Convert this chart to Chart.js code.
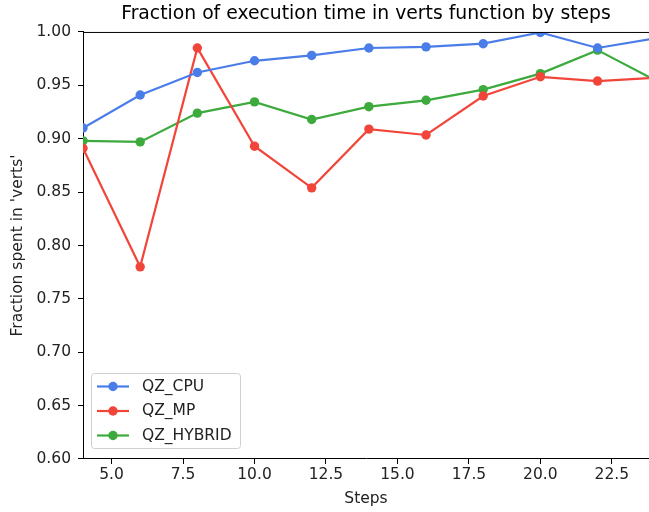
<!DOCTYPE html>
<html>
<head>
<meta charset="utf-8">
<script src="https://cdn.jsdelivr.net/npm/chart.js@4/dist/chart.umd.min.js"></script>
<style>
  html, body { margin: 0; padding: 0; background: #fff; }
  #wrap { width: 649px; height: 512px; position: relative; }
</style>
</head>
<body>
<div id="wrap"><canvas id="c" width="649" height="512"></canvas></div>
<script>
const steps = [4, 6, 8, 10, 12, 14, 16, 18, 20, 22, 24];
const qzCpu = [0.910, 0.941, 0.962, 0.973, 0.978, 0.985, 0.986, 0.989, 0.9995, 0.985, 0.994];
const qzMp = [0.891, 0.780, 0.985, 0.893, 0.854, 0.909, 0.9035, 0.940, 0.958, 0.954, 0.957];
const qzHybrid = [0.898, 0.897, 0.924, 0.9345, 0.918, 0.930, 0.936, 0.946, 0.961, 0.983, 0.955];
const seriesNames = ['QZ_CPU', 'QZ_MP', 'QZ_HYBRID'];
const xTicks = [5.0, 7.5, 10.0, 12.5, 15.0, 17.5, 20.0, 22.5];
const yTicks = [0.60, 0.65, 0.70, 0.75, 0.80, 0.85, 0.90, 0.95, 1.00];

const colors = ['#4a7de8', '#f2453a', '#3caa3c'];
const FONT = 'DejaVu Sans';
const FS = 15.5;

function mk(name, vals, color) {
  return {
    label: name,
    data: steps.map((s, i) => ({ x: s, y: vals[i] })),
    borderColor: color,
    backgroundColor: color,
    borderWidth: 2.2,
    pointRadius: 4.7,
    pointHoverRadius: 4.7,
    pointBorderWidth: 0,
    tension: 0,
    clip: 0
  };
}

const legendPlugin = {
  id: 'customLegend',
  afterDraw(chart) {
    const ctx = chart.ctx;
    const a = chart.chartArea;
    ctx.save();
    // top spine
    ctx.strokeStyle = '#000';
    ctx.lineWidth = 1;
    ctx.beginPath();
    ctx.moveTo(a.left, a.top + 0.5);
    ctx.lineTo(a.right, a.top + 0.5);
    ctx.stroke();
    // legend box
    const bx = 91.5, by = 373.5, bw = 149, bh = 75, r = 3;
    ctx.fillStyle = 'rgba(255,255,255,0.8)';
    ctx.strokeStyle = '#d0d0d0';
    ctx.lineWidth = 1;
    ctx.beginPath();
    ctx.moveTo(bx + r, by);
    ctx.lineTo(bx + bw - r, by);
    ctx.arcTo(bx + bw, by, bx + bw, by + r, r);
    ctx.lineTo(bx + bw, by + bh - r);
    ctx.arcTo(bx + bw, by + bh, bx + bw - r, by + bh, r);
    ctx.lineTo(bx + r, by + bh);
    ctx.arcTo(bx, by + bh, bx, by + bh - r, r);
    ctx.lineTo(bx, by + r);
    ctx.arcTo(bx, by, bx + r, by, r);
    ctx.closePath();
    ctx.fill();
    ctx.stroke();
    chart.data.datasets.forEach((ds, i) => {
      const y = 386.5 + i * 24.5;
      ctx.strokeStyle = ds.borderColor;
      ctx.lineWidth = 2.2;
      ctx.beginPath();
      ctx.moveTo(97, y);
      ctx.lineTo(129, y);
      ctx.stroke();
      ctx.fillStyle = ds.borderColor;
      ctx.beginPath();
      ctx.arc(113, y, 4.7, 0, Math.PI * 2);
      ctx.fill();
      ctx.fillStyle = '#222';
      ctx.font = FS + 'px "' + FONT + '"';
      ctx.textBaseline = 'middle';
      ctx.textAlign = 'left';
      ctx.fillText(ds.label, 142, y);
    });
    ctx.restore();
  }
};

new Chart(document.getElementById('c'), {
  type: 'line',
  data: {
    datasets: [
      mk(seriesNames[0], qzCpu, colors[0]),
      mk(seriesNames[1], qzMp, colors[1]),
      mk(seriesNames[2], qzHybrid, colors[2])
    ]
  },
  options: {
    responsive: false,
    animation: false,
    devicePixelRatio: 1,
    layout: { autoPadding: false, padding: { left: 0, right: 0, top: 0, bottom: 0 } },
    plugins: {
      legend: { display: false },
      tooltip: { enabled: false },
      title: {
        display: true,
        text: 'Fraction of execution time in verts function by steps',
        color: '#000',
        font: { family: FONT, size: 18.8, weight: 'normal' },
        padding: { top: 3, bottom: 6.4 },
        fullSize: false
      }
    },
    scales: {
      x: {
        type: 'linear',
        min: 4,
        max: 23.8,
        afterBuildTicks: (s) => { s.ticks = xTicks.map(v => ({ value: v })); },
        afterFit: (s) => { s.height = 53; s.paddingLeft = 0; s.paddingRight = 0; },
        grid: { display: true, drawOnChartArea: false, drawTicks: true, tickLength: 5, color: '#000', tickWidth: 1 },
        border: { display: true, color: '#000', width: 1 },
        ticks: {
          color: '#222',
          font: { family: FONT, size: FS },
          padding: 2,
          maxRotation: 0,
          autoSkip: false,
          callback: (v) => Number(v).toFixed(1)
        },
        title: {
          display: true,
          text: 'Steps',
          color: '#222',
          font: { family: FONT, size: FS },
          padding: { top: 0, bottom: 4 }
        }
      },
      y: {
        type: 'linear',
        min: 0.6,
        max: 1.0,
        afterBuildTicks: (s) => { s.ticks = yTicks.map(v => ({ value: v })); },
        afterFit: (s) => { s.width = 83; },
        grid: { display: true, drawOnChartArea: false, drawTicks: true, tickLength: 5, color: '#000', tickWidth: 1 },
        border: { display: true, color: '#000', width: 1 },
        ticks: {
          color: '#222',
          font: { family: FONT, size: FS },
          padding: 7,
          autoSkip: false,
          callback: (v) => Number(v).toFixed(2)
        },
        title: {
          display: true,
          text: "Fraction spent in 'verts'",
          color: '#222',
          font: { family: FONT, size: FS },
          padding: { top: 9, bottom: 4 }
        }
      }
    }
  },
  plugins: [legendPlugin]
});
</script>
</body>
</html>
